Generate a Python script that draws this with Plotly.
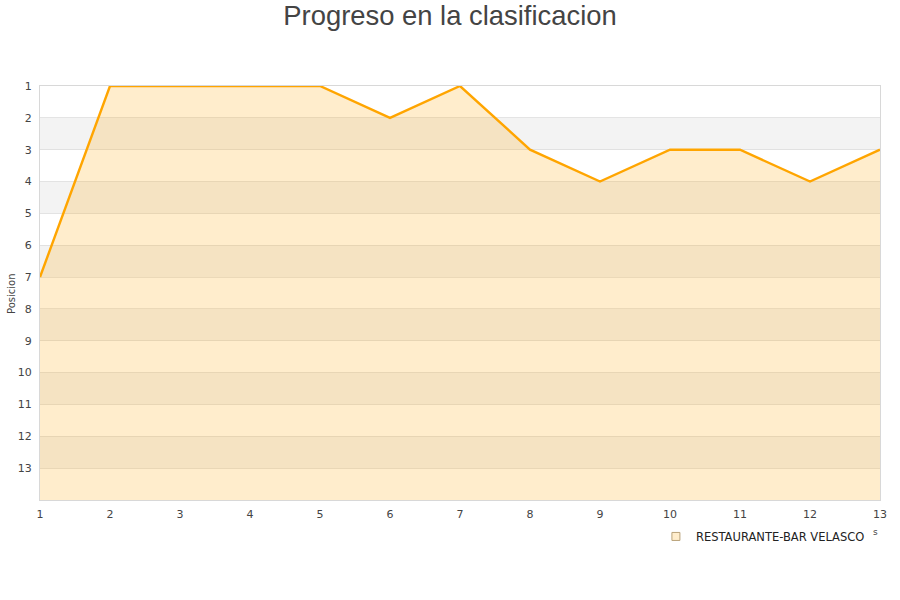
import plotly.graph_objects as go

jornadas = [1, 2, 3, 4, 5, 6, 7, 8, 9, 10, 11, 12, 13]
posicion = [7, 1, 1, 1, 1, 2, 1, 3, 4, 3, 3, 4, 3]
equipo = "RESTAURANTE-BAR VELASCO"
y_ticks = list(range(1, 14))
bands = [(2, 3), (4, 5), (6, 7), (8, 9), (10, 11), (12, 13)]
y_bottom = 14

fig = go.Figure()

fig.add_trace(go.Scatter(
    x=jornadas, y=[y_bottom] * len(jornadas), mode="lines",
    line=dict(width=0, color="rgba(0,0,0,0)"), showlegend=False, hoverinfo="skip"))
fig.add_trace(go.Scatter(
    x=jornadas, y=posicion, mode="lines", fill="tonexty",
    fillcolor="rgba(255,165,0,0.2)", line=dict(color="#ffa500", width=2.4),
    showlegend=False, name=equipo))
fig.add_trace(go.Scatter(
    x=[None], y=[None], mode="markers", name=equipo,
    marker=dict(symbol="square", size=8, color="#ffedcc",
                line=dict(color="#b9a27a", width=1))))

for a, b in bands:
    fig.add_shape(type="rect", xref="paper", yref="y", x0=0, x1=1, y0=a, y1=b,
                  fillcolor="#f3f3f3", line=dict(width=0), layer="below")

fig.add_annotation(text="s", xref="paper", yref="paper", x=(875 - 40) / 840,
                   y=(500 - 532) / 414, showarrow=False,
                   xanchor="center", yanchor="middle",
                   font=dict(family="DejaVu Sans", size=9, color="#444"))
fig.add_annotation(text="Posicion", xref="paper", yref="paper",
                   x=(11 - 40) / 840, y=(500 - 293) / 414, showarrow=False,
                   textangle=-90, xanchor="center", yanchor="middle",
                   font=dict(family="DejaVu Sans", size=10, color="#444"))

fig.update_layout(
    width=900, height=600,
    margin=dict(l=40, r=20, t=86, b=100, autoexpand=False),
    paper_bgcolor="white", plot_bgcolor="white",
    title=dict(text="Progreso en la clasificacion", x=0.5, xanchor="center",
               y=1 - 15 / 600, yanchor="middle",
               font=dict(family="Liberation Sans, Arial", size=27.4, color="#444")),
    xaxis=dict(range=[1, 13], tickvals=jornadas, showgrid=False, zeroline=False,
               showline=True, linecolor="#d8d8d8", mirror=True, ticks="",
               automargin=False, ticklabelstandoff=4,
               tickfont=dict(family="DejaVu Sans", size=11, color="#444")),
    yaxis=dict(range=[y_bottom, 1], tickvals=y_ticks, showgrid=True,
               gridcolor="rgba(200,200,200,0.45)", zeroline=False,
               showline=True, linecolor="#d8d8d8", mirror=True, ticks="",
               automargin=False, ticklabelstandoff=5,
               tickfont=dict(family="DejaVu Sans", size=11, color="#444")),
    legend=dict(orientation="h", x=0.988, xanchor="right", y=-0.053, yanchor="top",
                font=dict(family="DejaVu Sans", size=11.5, color="#222"),
                bgcolor="rgba(0,0,0,0)"),
)

fig.write_html("out.html", config={"displayModeBar": False},
               post_script="document.body.style.margin='0';")
